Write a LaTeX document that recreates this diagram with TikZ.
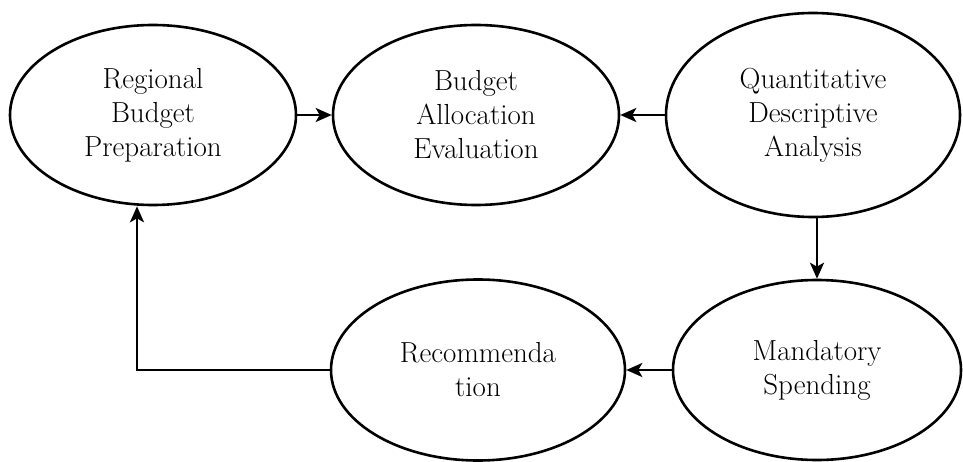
\documentclass[tikz,border=0pt]{standalone}
\usetikzlibrary{shapes.geometric,arrows.meta}
\begin{document}
\begin{tikzpicture}[x=1pt,y=-1pt,
  oval/.style={ellipse,draw,line width=2.6pt,inner sep=0pt,align=center,
    font=\fontsize{29}{34}\selectfont},
  conn/.style={line width=2.6pt,-{Stealth[length=16pt,width=14pt,inset=4pt]}}]
\useasboundingbox (0,0) rectangle (963,462);
\node[oval,minimum width=286pt,minimum height=180pt] (reg) at (153,115) {Regional\\Budget\\Preparation};
\node[oval,minimum width=286pt,minimum height=180pt] (alloc) at (476,115) {Budget\\Allocation\\Evaluation};
\node[oval,minimum width=294pt,minimum height=204pt] (quant) at (813,115) {Quantitative\\Descriptive\\Analysis};
\node[oval,minimum width=288pt,minimum height=180pt] (mand) at (817,370) {Mandatory\\Spending};
\node[oval,minimum width=294pt,minimum height=181pt] (rec) at (478,370) {Recommenda\\tion};
\coordinate (corner) at (137,370);
\draw[conn] (reg.east) -- (alloc.west);
\draw[conn] (quant.west) -- (alloc.east);
\draw[conn] (mand.north |- quant.south) -- (mand.north);
\draw[conn] (mand.west) -- (rec.east);
\draw[conn] (rec.west) -- (corner) -- (corner |- reg.south);
\end{tikzpicture}
\end{document}
